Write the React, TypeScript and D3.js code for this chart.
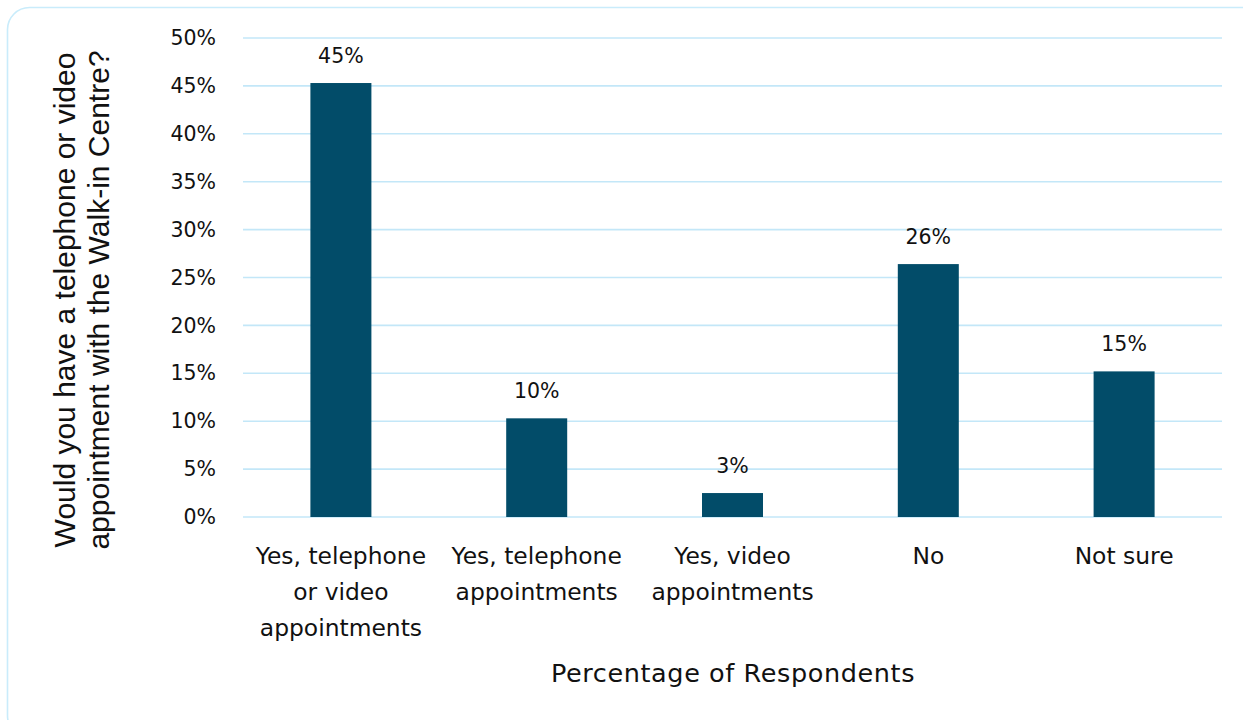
import React from "react";
import * as d3 from "d3";

const categories: string[][] = [
  ["Yes, telephone", "or video", "appointments"],
  ["Yes, telephone", "appointments"],
  ["Yes, video", "appointments"],
  ["No"],
  ["Not sure"],
];
const values: number[] = [45.3, 10.3, 2.5, 26.4, 15.2];
const valueLabels: string[] = ["45%", "10%", "3%", "26%", "15%"];
const yTicks: number[] = [0, 5, 10, 15, 20, 25, 30, 35, 40, 45, 50];
const yTitle: string[] = ["Would you have a telephone or video", "appointment with the Walk-in Centre?"];
const xTitle = "Percentage of Respondents";

const W = 1243;
const H = 720;
const FONT = "'DejaVu Sans', sans-serif";
const TITLE_FONT = "'Liberation Sans', Arial, sans-serif";

export default function App() {
  const left = 243, right = 1222, top = 38, bottom = 517;
  const x = d3.scaleBand<number>().domain(values.map((_, i) => i)).range([left, right]);
  const y = d3.scaleLinear().domain([0, 50]).range([bottom, top]);
  const bw = 61;
  return (
    <svg width={W} height={H} style={{ position: "absolute", left: 0, top: 0, display: "block" }}>
      <rect x={7.5} y={7.5} width={1260} height={730} rx={22} fill="#fff" stroke="#c9ecfb" strokeWidth={1.6} />
      {yTicks.map((t) => (
        <g key={t}>
          <line x1={left} x2={right} y1={y(t)} y2={y(t)} stroke="#c3e7f8" strokeWidth={1.6} />
          <text x={216} y={y(t)} dy="0.35em" textAnchor="end" fontFamily={FONT} fontSize={20.5} fill="#111">
            {t}%
          </text>
        </g>
      ))}
      {values.map((v, i) => {
        const cx = (x(i) as number) + x.bandwidth() / 2;
        return (
          <g key={i}>
            <rect x={cx - bw / 2} y={y(v)} width={bw} height={bottom - y(v)} fill="#024c69" />
            <text x={cx} y={y(v) - 20} textAnchor="middle" fontFamily={FONT} fontSize={20.5} fill="#111">
              {valueLabels[i]}
            </text>
            {categories[i].map((line, j) => (
              <text key={j} x={cx} y={564 + j * 36} textAnchor="middle" fontFamily={FONT} fontSize={23.4} fill="#111">
                {line}
              </text>
            ))}
          </g>
        );
      })}
      <text x={733} y={682} textAnchor="middle" fontFamily={FONT} fontSize={25.5} letterSpacing={0.6} fill="#111">
        {xTitle}
      </text>
      {yTitle.map((line, j) => (
        <text
          key={j}
          transform={`translate(${74.5 + j * 34.5},${300}) rotate(-90)`}
          textAnchor="middle"
          fontFamily={TITLE_FONT}
          fontSize={30}
          fill="#111"
        >
          {line}
        </text>
      ))}
    </svg>
  );
}
